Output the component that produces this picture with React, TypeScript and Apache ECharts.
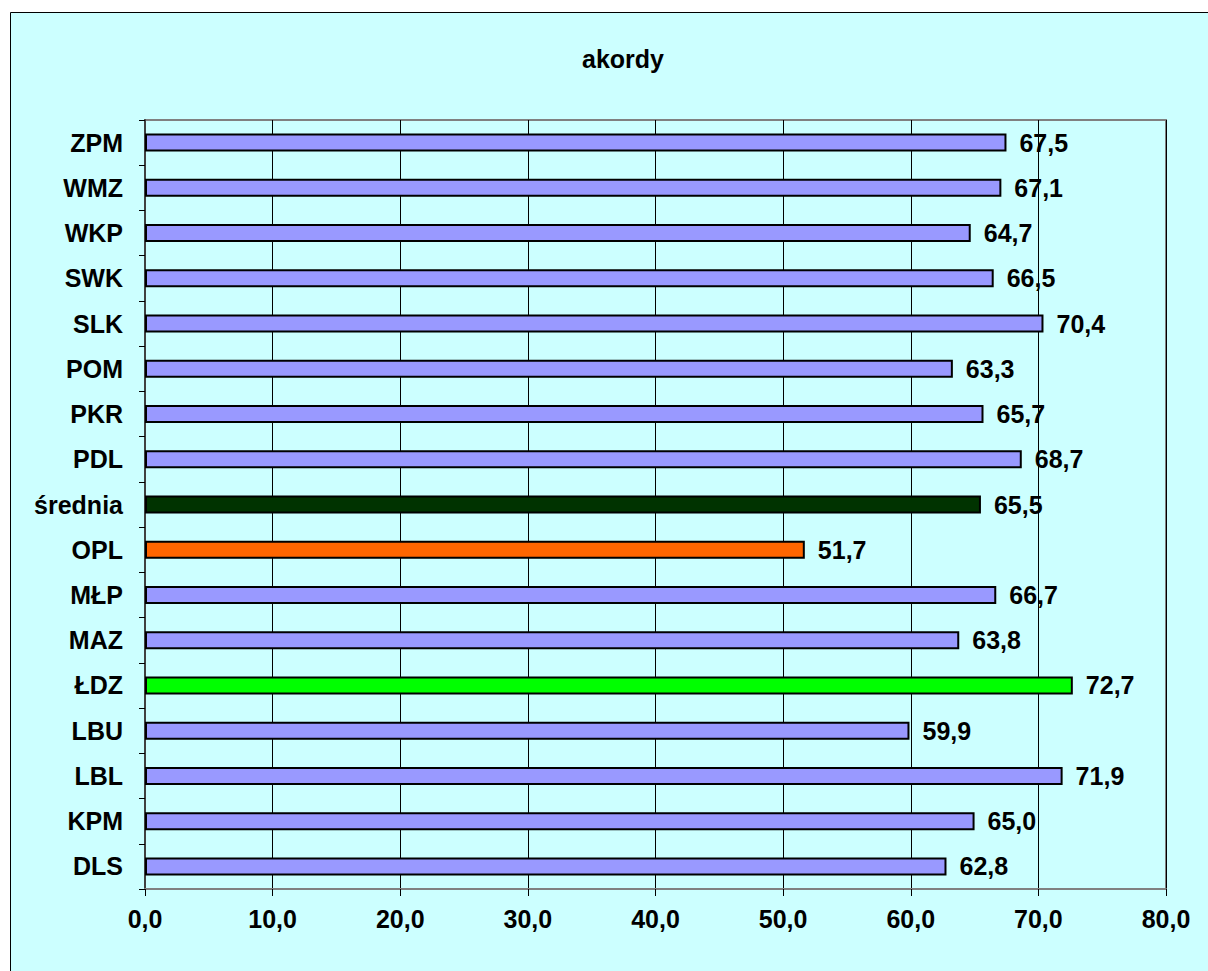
import React, { useEffect, useRef } from "react";
import * as echarts from "echarts";

const categories = ["DLS", "KPM", "LBL", "LBU", "ŁDZ", "MAZ", "MŁP", "OPL", "średnia", "PDL", "PKR", "POM", "SLK", "SWK", "WKP", "WMZ", "ZPM"];
const values = [62.8, 65.0, 71.9, 59.9, 72.7, 63.8, 66.7, 51.7, 65.5, 68.7, 65.7, 63.3, 70.4, 66.5, 64.7, 67.1, 67.5];
const specialColors: Record<string, string> = { "ŁDZ": "#00FF00", "OPL": "#FF6600", "średnia": "#003300" };
const baseColor = "#9999FF";
const xTicks = { min: 0, max: 80, interval: 10 };

const fmt = (v: number) => v.toFixed(1).replace(".", ",");

export default function App() {
  const ref = useRef<HTMLDivElement>(null);
  useEffect(() => {
    const chart = echarts.init(ref.current!, null, { renderer: "svg" });
    const font = "Arial, 'Liberation Sans', sans-serif";
    chart.setOption({
      animation: false,
      backgroundColor: "#ffffff",
      graphic: [
        {
          type: "rect",
          z: -10,
          silent: true,
          shape: { x: 10.5, y: 12.5, width: 1230, height: 1000 },
          style: { fill: "#CCFFFF", stroke: "#000000", lineWidth: 1 },
        },
        {
          type: "text",
          x: 623,
          y: 59,
          style: {
            text: "akordy",
            font: `bold 25px ${font}`,
            fill: "#000",
            textAlign: "center",
            textVerticalAlign: "middle",
          },
        },
      ],
      grid: {
        left: 145,
        top: 120,
        right: 42,
        bottom: 82,
        show: true,
        borderColor: "#808080",
        borderWidth: 2,
        backgroundColor: "transparent",
      },
      xAxis: {
        type: "value",
        min: xTicks.min,
        max: xTicks.max,
        interval: xTicks.interval,
        axisLine: { show: true, lineStyle: { color: "#808080", width: 2 } },
        axisTick: { show: true, length: 7, lineStyle: { color: "#000", width: 1 } },
        splitLine: { show: true, lineStyle: { color: "#000", width: 1 } },
        axisLabel: {
          formatter: (v: number) => fmt(v),
          fontFamily: font,
          fontWeight: "bold",
          fontSize: 25,
          color: "#000",
          margin: 17,
        },
      },
      yAxis: {
        type: "category",
        data: categories,
        axisLine: { show: true, lineStyle: { color: "#404040", width: 2 } },
        axisTick: { show: true, length: 6, inside: false, lineStyle: { color: "#000", width: 1 } },
        splitLine: { show: false },
        axisLabel: {
          fontFamily: font,
          fontWeight: "bold",
          fontSize: 25,
          color: "#000",
          margin: 22,
        },
      },
      series: [
        {
          type: "bar",
          barWidth: 18,
          data: values.map((v, i) => ({
            value: v,
            itemStyle: {
              color: specialColors[categories[i]] ?? baseColor,
              borderColor: "#000",
              borderWidth: 2,
            },
          })),
          label: {
            show: true,
            position: "right",
            distance: 13,
            formatter: (p: any) => fmt(p.value),
            fontFamily: font,
            fontWeight: "bold",
            fontSize: 25,
            color: "#000",
          },
        },
      ],
    });
    return () => chart.dispose();
  }, []);
  return (
    <div
      ref={ref}
      style={{ position: "absolute", left: 0, top: 0, width: 1208, height: 971 }}
    />
  );
}
